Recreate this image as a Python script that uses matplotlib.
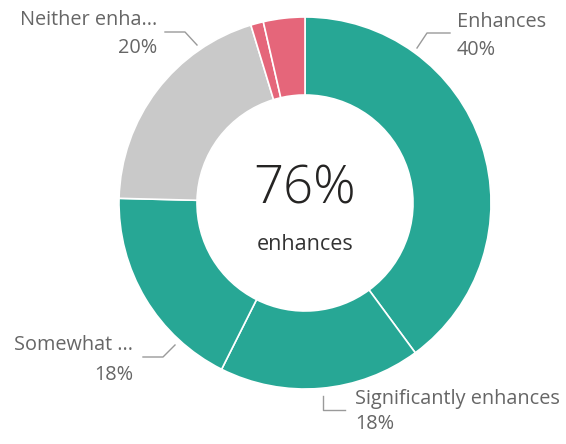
import matplotlib
matplotlib.use("Agg")
import matplotlib.pyplot as plt

# ---- data ----
categories = ["Enhances", "Significantly enhances", "Somewhat enhances",
              "Neither enhances nor detracts", "Significantly detracts", "Detracts"]
values = [39.9, 17.5, 18.0, 19.9, 1.1, 3.6]
display_names = ["Enhances", "Significantly enhances", "Somewhat ...", "Neither enha...", None, None]
display_pcts = ["40%", "18%", "18%", "20%", None, None]
colors = ["#27A795", "#27A795", "#27A795", "#C9C9C9", "#E5667A", "#E5667A"]
center_value = "76%"
center_label = "enhances"

W, H = 566, 444
fig = plt.figure(figsize=(W / 100, H / 100), dpi=100)
ax = fig.add_axes([0, 0, 1, 1])

cx, cy = 305, H - 203
R = 186
width = 78

ax.pie(values, colors=colors, startangle=90, counterclock=False,
       center=(cx, cy), radius=R, frame=True,
       wedgeprops=dict(width=width, edgecolor="white", linewidth=1.2))
ax.set_xlim(0, W)
ax.set_ylim(0, H)
ax.set_aspect("equal")
ax.axis("off")

plt.rcParams['font.family'] = ['Open Sans', 'DejaVu Sans']
tc = "#666666"
fs = 14.3
lc = "#9a9a9a"

def Y(y):
    return H - y

# Enhances
ax.text(457, Y(22), display_names[0], ha="left", va="center", color=tc, fontsize=fs)
ax.text(457, Y(50), display_pcts[0], ha="left", va="center", color=tc, fontsize=fs)
ax.plot([417, 427, 450], [Y(48), Y(33), Y(33)], color=lc, lw=1)

# Significantly enhances
ax.text(355, Y(399), display_names[1], ha="left", va="center", color=tc, fontsize=fs)
ax.text(355, Y(424), display_pcts[1], ha="left", va="center", color=tc, fontsize=fs)
ax.plot([323, 323, 345], [Y(396), Y(410), Y(410)], color=lc, lw=1)

# Somewhat
ax.text(133, Y(345), display_names[2], ha="right", va="center", color=tc, fontsize=fs)
ax.text(133, Y(375), display_pcts[2], ha="right", va="center", color=tc, fontsize=fs)
ax.plot([143, 163, 175], [Y(357), Y(357), Y(345)], color=lc, lw=1)

# Neither
ax.text(157, Y(20), display_names[3], ha="right", va="center", color=tc, fontsize=fs)
ax.text(157, Y(48), display_pcts[3], ha="right", va="center", color=tc, fontsize=fs)
ax.plot([165, 185, 197], [Y(32), Y(32), Y(45)], color=lc, lw=1)

# center
ax.text(cx, Y(190), center_value, ha="center", va="center", color="#252423",
        fontsize=38, fontweight="light")
ax.text(cx, Y(245), center_label, ha="center", va="center", color="#333333", fontsize=15.5)

fig.savefig("out.png", dpi=100, facecolor="white")
